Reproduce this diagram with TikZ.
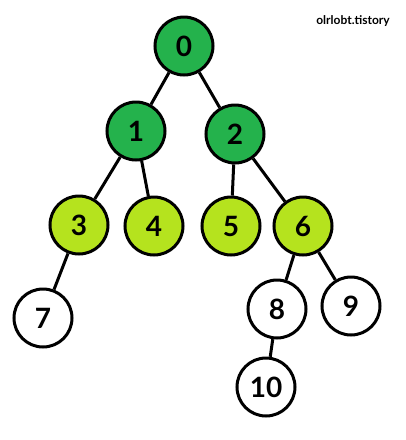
\documentclass[tikz,border=0pt]{standalone}
\usepackage{fontspec}
\setmainfont{Lato}
\definecolor{darkgreen}{RGB}{36,178,76}
\definecolor{limegreen}{RGB}{181,227,30}
\begin{document}
\begin{tikzpicture}[x=1pt,y=-1pt,
    vertex/.style={circle, draw=black, line width=3pt, minimum size=58pt, inner sep=0pt,
        font=\fontsize{28}{28}\selectfont\bfseries},
    root/.style={vertex, fill=darkgreen},
    inner/.style={vertex, fill=limegreen},
    leaf/.style={vertex, fill=white},
    edge/.style={line width=3pt}]
    \useasboundingbox (0,0) rectangle (406,440);
    \node[root] (n0) at (184,46) {0};
    \node[root] (n1) at (136,131) {1};
    \node[root] (n2) at (235,134) {2};
    \node[inner] (n3) at (79,225) {3};
    \node[inner] (n4) at (154,226) {4};
    \node[inner] (n5) at (231,226) {5};
    \node[inner] (n6) at (303,226) {6};
    \node[leaf] (n7) at (43,318) {7};
    \node[leaf] (n8) at (277,309) {8};
    \node[leaf] (n9) at (351,306) {9};
    \node[leaf] (n10) at (266,387) {10};
    \draw[edge] (n0) -- (n1);
    \draw[edge] (n0) -- (n2);
    \draw[edge] (n1) -- (n3);
    \draw[edge] (n1) -- (n4);
    \draw[edge] (n2) -- (n5);
    \draw[edge] (n2) -- (n6);
    \draw[edge] (n3) -- (n7);
    \draw[edge] (n6) -- (n8);
    \draw[edge] (n6) -- (n9);
    \draw[edge] (n8) -- (n10);
    \node[font=\fontsize{12}{12}\selectfont\bfseries] (mark) at (353,21) {olrlobt.tistory};
\end{tikzpicture}
\end{document}
